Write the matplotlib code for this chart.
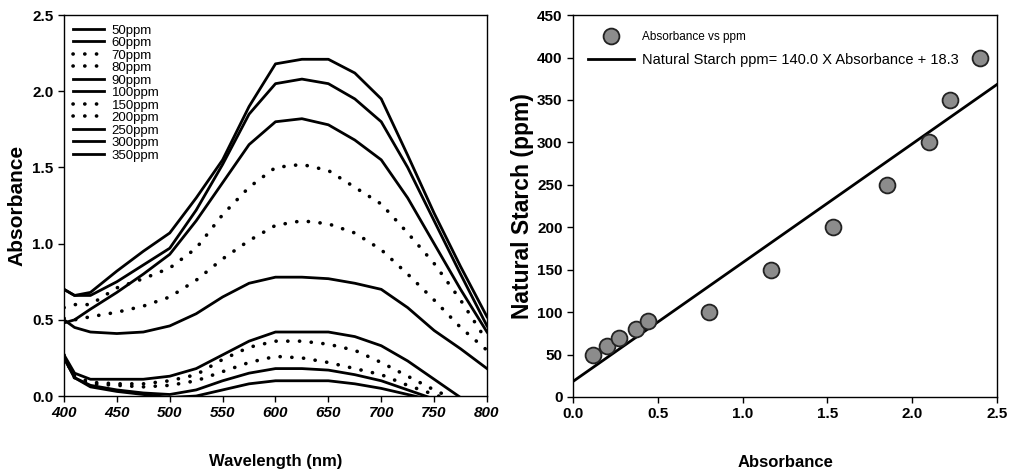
import numpy as np
import matplotlib
matplotlib.use("Agg")
import matplotlib.pyplot as plt

plt.rcParams['font.family'] = ['Liberation Sans', 'DejaVu Sans']

# UV-vis spectra
wavelength = [400, 410, 425, 450, 475, 500, 525, 550, 575, 600, 625, 650, 675, 700, 725, 750, 775, 800]

abs_50 = [0.25, 0.12, 0.06, 0.03, 0.01, -0.01, 0.00, 0.04, 0.08, 0.10, 0.10, 0.10, 0.08, 0.05, 0.01, -0.03, -0.06, -0.10]
abs_60 = [0.25, 0.12, 0.07, 0.04, 0.02, 0.01, 0.04, 0.10, 0.15, 0.18, 0.18, 0.17, 0.14, 0.10, 0.04, -0.02, -0.06, -0.10]
abs_70 = [0.26, 0.12, 0.08, 0.07, 0.06, 0.07, 0.10, 0.16, 0.22, 0.26, 0.25, 0.22, 0.18, 0.14, 0.07, 0.01, -0.05, -0.10]
abs_80 = [0.27, 0.13, 0.09, 0.08, 0.08, 0.10, 0.14, 0.24, 0.32, 0.36, 0.36, 0.34, 0.30, 0.22, 0.13, 0.04, -0.04, -0.10]
abs_90 = [0.27, 0.15, 0.11, 0.11, 0.11, 0.13, 0.18, 0.27, 0.36, 0.42, 0.42, 0.42, 0.39, 0.33, 0.23, 0.11, -0.01, -0.10]
abs_100 = [0.50, 0.45, 0.42, 0.41, 0.42, 0.46, 0.54, 0.65, 0.74, 0.78, 0.78, 0.77, 0.74, 0.70, 0.58, 0.43, 0.31, 0.18]
abs_150 = [0.51, 0.50, 0.52, 0.55, 0.59, 0.65, 0.76, 0.90, 1.02, 1.12, 1.15, 1.13, 1.07, 0.96, 0.80, 0.63, 0.45, 0.30]
abs_200 = [0.58, 0.60, 0.60, 0.71, 0.77, 0.84, 0.97, 1.19, 1.37, 1.50, 1.52, 1.48, 1.37, 1.26, 1.07, 0.87, 0.63, 0.36]
abs_250 = [0.48, 0.50, 0.57, 0.68, 0.80, 0.93, 1.15, 1.40, 1.65, 1.80, 1.82, 1.78, 1.68, 1.55, 1.30, 1.00, 0.70, 0.42]
abs_300 = [0.70, 0.66, 0.66, 0.75, 0.86, 0.97, 1.22, 1.52, 1.85, 2.05, 2.08, 2.05, 1.95, 1.80, 1.50, 1.15, 0.80, 0.46]
abs_350 = [0.70, 0.66, 0.68, 0.82, 0.95, 1.07, 1.30, 1.55, 1.90, 2.18, 2.21, 2.21, 2.12, 1.95, 1.58, 1.20, 0.85, 0.52]

spectra = [abs_50, abs_60, abs_70, abs_80, abs_90, abs_100, abs_150, abs_200, abs_250, abs_300, abs_350]
spec_labels = ['50ppm', '60ppm', '70ppm', '80ppm', '90ppm', '100ppm', '150ppm', '200ppm', '250ppm', '300ppm', '350ppm']
dotted = ['70ppm', '80ppm', '150ppm', '200ppm']

# calibration panel
cal_absorbance = [0.12, 0.20, 0.27, 0.37, 0.44, 0.80, 1.17, 1.53, 1.85, 2.10, 2.22, 2.40]
cal_ppm = [50, 60, 70, 80, 90, 100, 150, 200, 250, 300, 350, 400]
slope, intercept = 140.0, 18.3
fit_x = [0.0, 2.5]

fig = plt.figure(figsize=(10.11, 4.72), dpi=100)
ax1 = fig.add_axes([0.0633, 0.161, 0.4184, 0.807])
ax2 = fig.add_axes([0.5668, 0.159, 0.4194, 0.809])

for lab, vals in zip(spec_labels, spectra):
    if lab in dotted:
        ax1.plot(wavelength, vals, color='black', lw=2.6, linestyle=(0, (0.05, 3.2)),
                 dash_capstyle='round', label=lab)
    else:
        ax1.plot(wavelength, vals, color='black', lw=2.0, label=lab)

ax1.set_xlim(400, 800)
ax1.set_ylim(0, 2.5)
ax1.set_xticks(np.arange(400, 801, 50))
ax1.set_yticks(np.arange(0, 2.51, 0.5))
ax1.set_yticklabels(['%.1f' % v for v in np.arange(0, 2.51, 0.5)])
ax1.set_xlabel('Wavelength (nm)', fontsize=12, labelpad=24, fontweight='bold')
ax1.set_ylabel('Absorbance', fontsize=15, fontweight='bold', labelpad=4)
for t in ax1.get_xticklabels():
    t.set_fontstyle('italic')
leg1 = ax1.legend(loc='upper left', frameon=False, prop={'size': 9.5},
                  handlelength=2.3, labelspacing=0.02, handletextpad=0.6, borderaxespad=0.3)

ax2.scatter(cal_absorbance, cal_ppm, s=130, facecolor='#8c8c8c', edgecolor='#222222',
            linewidths=1.3, zorder=3, label='Absorbance vs ppm')
ax2.plot(fit_x, [slope * x + intercept for x in fit_x], color='black', lw=2.0,
         label='Natural Starch ppm= 140.0 X Absorbance + 18.3')
ax2.set_xlim(0, 2.5)
ax2.set_ylim(0, 450)
ax2.set_xticks(np.arange(0, 2.51, 0.5))
ax2.set_xticklabels(['%.1f' % v for v in np.arange(0, 2.51, 0.5)])
ax2.set_yticks(np.arange(0, 451, 50))
ax2.set_xlabel('Absorbance', fontsize=12, labelpad=24, fontweight='bold')
ax2.set_ylabel('Natural Starch (ppm)', fontsize=16.5, fontweight='bold', labelpad=2)
leg2 = ax2.legend(loc='upper left', frameon=False, prop={'size': 10.5},
                  handlelength=3.2, handletextpad=0.5, labelspacing=0.7,
                  borderaxespad=0.4, borderpad=0.6)
leg2.get_texts()[0].set_fontsize(8.5)

for ax in (ax1, ax2):
    ax.tick_params(direction='out', length=4, width=1, labelsize=11)
    for t in ax.get_xticklabels() + ax.get_yticklabels():
        t.set_fontweight('bold')
    for s in ax.spines.values():
        s.set_linewidth(1.0)

fig.savefig('out.png', dpi=100)
